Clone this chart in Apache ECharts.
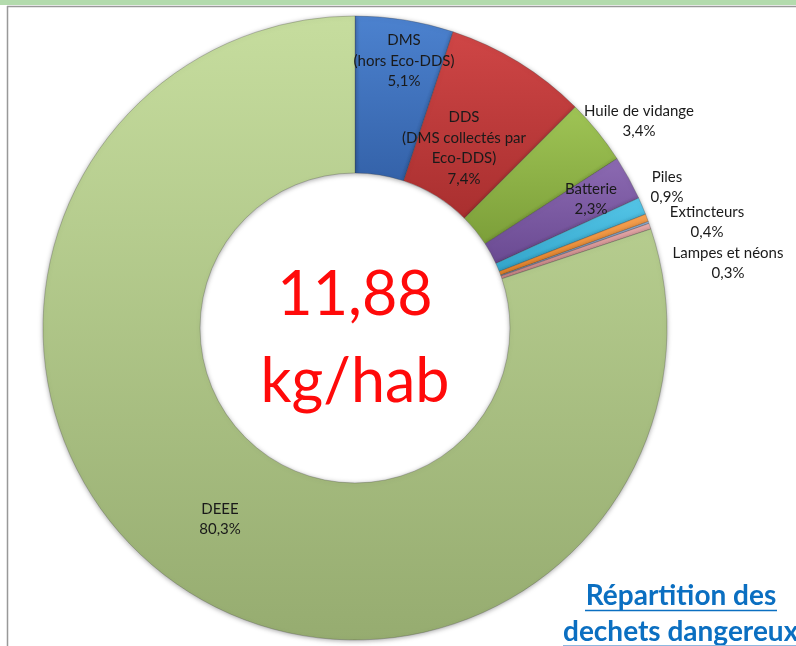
<!DOCTYPE html>
<html>
<head>
<meta charset="utf-8">
<script src="https://cdn.jsdelivr.net/npm/echarts@6/dist/echarts.min.js"></script>
<style>
  html, body { margin: 0; padding: 0; background: #fff; }
  #chart { width: 796px; height: 646px; }
</style>
</head>
<body>
<div id="chart"></div>
<script>
// categories (clockwise from the top) and their share in %
const categories = ['DMS\n(hors Eco-DDS)', 'DDS\n(DMS collectés par\nEco-DDS)', 'Huile de vidange', 'Batterie', 'Piles', 'Extincteurs', '', 'Lampes et néons', 'DEEE']
const shares = [5.1, 7.4, 3.4, 2.3, 0.9, 0.4, 0.1, 0.3, 80.3]
const centerLines = ['11,88', 'kg/hab']
const titleLines = ['Répartition des', 'dechets dangereux']

// slice colours, top -> bottom of the bevel gradient
const sliceColors = [
  ['#4c82cf', '#3462a9'],
  ['#cf4646', '#a92f2f'],
  ['#9fc455', '#7c9f39'],
  ['#8c6ab2', '#6a4a92'],
  ['#55c6e8', '#33a5ca'],
  ['#f8a251', '#e5842a'],
  ['#9cbbe2', '#7d9cc9'],
  ['#e8abab', '#cf8989'],
  ['#c6dd9e', '#96ac70']
]
// label centre offsets from the pie centre (Excel "best fit")
const labelSpots = [
  [49, -267], [109, -180], [284, -207], [236, -129],
  [312, -141], [352, -106], null, [373, -65], [-135, 191]
]
const CX = 355
const CY = 328

function grad(c) {
  return new echarts.graphic.LinearGradient(0, 0, 0, 1, [
    { offset: 0, color: c[0] },
    { offset: 1, color: c[1] }
  ])
}

const chart = echarts.init(document.getElementById('chart'))
chart.setOption({
  animation: false,
  textStyle: { fontFamily: 'Lato' },
  series: [{
    type: 'pie',
    center: [CX, CY],
    radius: [155, 312],
    startAngle: 90,
    clockwise: true,
    avoidLabelOverlap: false,
    itemStyle: {
      borderColor: 'rgba(60,60,60,0.35)',
      borderWidth: 0.8,
      shadowBlur: 5,
      shadowColor: 'rgba(0,0,0,0.35)',
      shadowOffsetY: 1
    },
    label: {
      show: true,
      position: 'inside',
      color: '#1a1a1a',
      fontFamily: 'Lato',
      fontSize: 15,
      lineHeight: 20.5,
      formatter: p => p.name + '\n' + String(p.value).replace('.', ',') + '%'
    },
    labelLine: { show: false },
    labelLayout: p => {
      const s = labelSpots[p.dataIndex]
      if (!s) return {}
      return { x: CX + s[0], y: CY + s[1], align: 'center', verticalAlign: 'middle' }
    },
    emphasis: { disabled: true },
    data: categories.map((name, i) => ({
      name: name,
      value: shares[i],
      itemStyle: { color: grad(sliceColors[i]) },
      label: { show: !!name }
    }))
  }],
  graphic: [
    { type: 'rect', shape: { x: 0, y: 0, width: 796, height: 5 }, style: { fill: '#b3dbad' } },
    { type: 'line', shape: { x1: 7, y1: 6.5, x2: 796, y2: 6.5 }, style: { stroke: '#999', lineWidth: 1.5 } },
    { type: 'line', shape: { x1: 7.5, y1: 6, x2: 7.5, y2: 646 }, style: { stroke: '#999', lineWidth: 1.5 } },
    {
      type: 'text', style: {
        text: centerLines[0], x: CX, y: CY - 33, align: 'center', verticalAlign: 'middle',
        fill: '#ff0a0a', font: '61px Lato'
      }
    },
    {
      type: 'text', style: {
        text: centerLines[1], x: CX, y: CY + 54, align: 'center', verticalAlign: 'middle',
        fill: '#ff0a0a', font: '61px Lato'
      }
    },
    {
      type: 'text', style: {
        text: titleLines[0], x: 681, y: 596, align: 'center', verticalAlign: 'middle',
        fill: '#0b6fc1', font: 'bold 28px Lato'
      }
    },
    { type: 'line', shape: { x1: 585, y1: 610.5, x2: 777, y2: 610.5 }, style: { stroke: '#0b6fc1', lineWidth: 1.5 } },
    {
      type: 'text', style: {
        text: titleLines[1], x: 563, y: 632, align: 'left', verticalAlign: 'middle',
        fill: '#0b6fc1', font: 'bold 28px Lato'
      }
    },
    { type: 'line', shape: { x1: 563, y1: 645.5, x2: 796, y2: 645.5 }, style: { stroke: '#8db9e0', lineWidth: 1 } }
  ]
})
</script>
</body>
</html>
